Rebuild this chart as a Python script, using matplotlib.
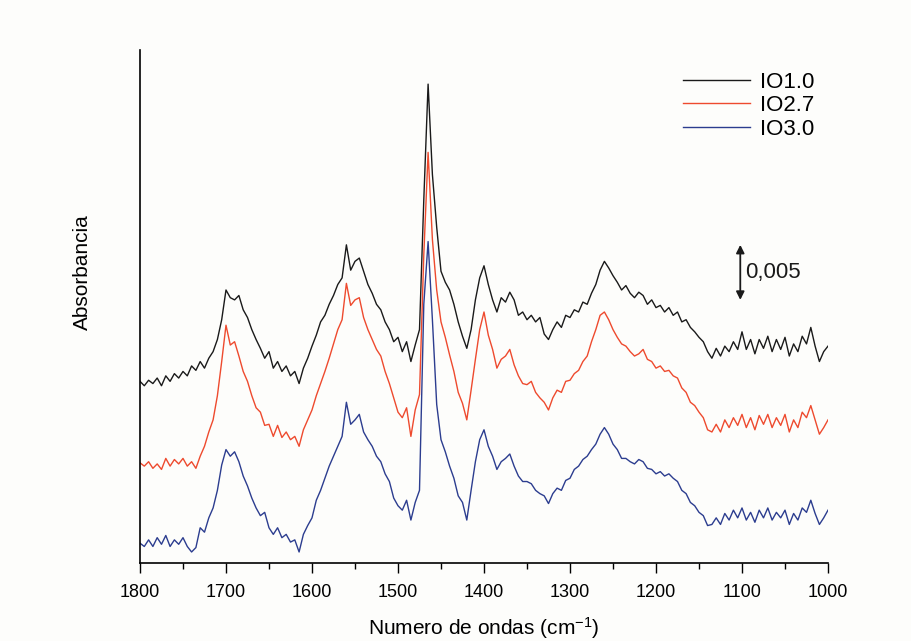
import matplotlib
matplotlib.use("Agg")
import matplotlib.pyplot as plt
import numpy as np

plt.rcParams['font.family'] = ['Liberation Sans', 'DejaVu Sans']
plt.rcParams['mathtext.default'] = 'regular'

# numero de ondas (cm-1), paso de 5
ondas = np.linspace(1800, 1000, 161)

# absorbancia en unidades de 0.001 (curvas desplazadas)
io10 = [16.5, 16.1, 16.6, 16.3, 16.8, 16.1, 17.0, 16.5, 17.2, 16.8,
        17.4, 17.0, 17.9, 17.5, 18.3, 17.7, 18.6, 19.2, 20.3, 22.1,
        24.8, 24.1, 23.9, 24.3, 23.0, 22.3, 21.2, 20.3, 19.5, 18.6,
        19.2, 17.7, 18.3, 17.4, 17.9, 17.0, 17.4, 16.3, 17.7, 18.6,
        19.7, 20.7, 21.9, 22.5, 23.5, 24.3, 25.3, 25.9, 28.9, 26.6,
        27.4, 27.7, 26.5, 25.3, 24.5, 23.5, 23.0, 21.9, 21.2, 20.1,
        20.5, 19.2, 20.1, 18.3, 19.8, 21.2, 33.0, 43.5, 35.3, 30.5,
        26.5, 25.5, 24.8, 23.5, 21.9, 20.6, 19.5, 21.2, 23.9, 25.9,
        27.0, 25.3, 23.9, 22.8, 24.1, 23.7, 24.6, 23.9, 22.5, 22.8,
        22.1, 22.5, 21.9, 22.3, 20.8, 20.3, 21.2, 21.9, 21.4, 22.5,
        22.3, 23.0, 22.8, 23.7, 23.5, 24.5, 25.3, 26.6, 27.4, 26.8,
        26.1, 25.5, 24.8, 25.2, 24.5, 24.1, 24.6, 24.3, 23.5, 23.9,
        23.2, 23.4, 22.8, 23.2, 22.5, 22.8, 21.9, 22.1, 21.4, 21.0,
        20.5, 20.1, 19.2, 18.6, 19.5, 18.8, 19.7, 19.2, 20.1, 19.4,
        21.0, 19.4, 20.3, 19.0, 20.3, 19.5, 20.6, 19.2, 20.3, 19.4,
        20.5, 18.8, 19.9, 19.2, 20.6, 19.9, 21.4, 19.7, 18.3, 19.2,
        19.7]

io27 = [9.1, 8.8, 9.2, 8.6, 9.0, 8.5, 9.5, 8.8, 9.4, 9.0,
        9.5, 8.8, 9.2, 8.6, 9.7, 10.6, 11.9, 13.0, 15.2, 18.3,
        21.6, 19.8, 20.1, 18.8, 17.4, 16.5, 15.2, 14.1, 13.7, 12.5,
        12.6, 11.5, 12.5, 11.4, 11.9, 11.2, 11.5, 10.6, 12.1, 13.0,
        13.9, 15.2, 16.3, 17.4, 18.6, 19.9, 21.2, 22.1, 25.4, 23.4,
        23.9, 24.1, 22.3, 21.2, 20.3, 19.4, 18.8, 17.4, 16.3, 15.0,
        13.7, 13.2, 14.1, 11.5, 13.9, 15.3, 28.0, 37.3, 29.4, 24.8,
        21.9, 20.5, 18.9, 17.4, 15.5, 14.5, 13.0, 15.7, 18.5, 21.2,
        22.8, 20.7, 19.4, 17.7, 18.5, 18.8, 19.4, 18.0, 17.0, 16.3,
        16.2, 16.5, 15.5, 15.0, 14.6, 13.9, 15.0, 15.7, 15.5, 16.5,
        16.6, 17.2, 17.5, 18.3, 18.8, 20.1, 21.2, 22.5, 22.8, 22.1,
        21.2, 20.5, 19.9, 19.7, 19.2, 18.8, 19.0, 19.4, 18.5, 18.3,
        17.7, 17.9, 17.4, 17.5, 17.0, 16.8, 15.9, 15.5, 14.6, 14.3,
        13.7, 13.2, 12.1, 11.9, 12.6, 11.9, 13.0, 12.3, 13.2, 12.5,
        13.5, 12.3, 13.2, 12.1, 13.4, 12.6, 13.5, 12.3, 13.2, 12.5,
        13.5, 11.9, 13.0, 12.3, 13.7, 13.2, 14.3, 13.0, 11.7, 12.3,
        13.0]

io30 = [1.8, 1.5, 2.1, 1.5, 2.3, 1.7, 2.5, 1.5, 2.1, 1.7,
        2.3, 1.5, 1.0, 1.4, 3.2, 2.8, 4.1, 5.0, 6.6, 8.9,
        10.3, 9.7, 10.1, 9.2, 7.9, 7.0, 5.9, 5.0, 4.3, 4.6,
        3.2, 2.6, 3.2, 2.3, 2.6, 1.9, 2.1, 1.0, 2.6, 3.4,
        4.1, 5.7, 6.6, 7.7, 8.8, 9.7, 10.6, 11.5, 14.6, 12.6,
        13.0, 13.5, 11.9, 11.2, 10.6, 9.7, 9.2, 8.1, 7.4, 5.9,
        5.2, 4.8, 5.7, 3.9, 5.5, 6.6, 23.5, 29.2, 22.1, 14.4,
        11.2, 10.1, 8.8, 7.7, 6.1, 5.5, 3.9, 6.6, 9.2, 11.2,
        12.1, 10.6, 9.7, 8.5, 9.2, 9.5, 9.9, 8.8, 7.9, 7.4,
        7.4, 7.2, 6.6, 6.3, 6.1, 5.4, 6.3, 6.8, 6.6, 7.5,
        7.7, 8.5, 8.8, 9.4, 9.7, 10.3, 10.8, 11.7, 12.3, 11.7,
        10.8, 10.3, 9.5, 9.5, 9.2, 9.0, 9.4, 9.2, 8.6, 8.5,
        8.1, 8.3, 7.9, 8.1, 7.7, 7.4, 6.6, 6.3, 5.5, 5.2,
        4.6, 4.3, 3.4, 3.5, 4.1, 3.5, 4.5, 3.9, 4.8, 4.1,
        5.0, 3.9, 4.6, 3.7, 4.8, 4.1, 5.0, 3.9, 4.6, 4.1,
        4.8, 3.5, 4.5, 3.9, 5.0, 4.6, 5.7, 4.5, 3.5, 4.1,
        4.8]

nombres = ['IO1.0', 'IO2.7', 'IO3.0']
colores = ['#1a1a1a', '#ee4a2e', '#2c3d8f']

fig = plt.figure(figsize=(9.12, 6.41), dpi=100)
fig.patch.set_facecolor('#fdfdfb')
ax = fig.add_axes([0.1535, 0.1217, 0.7544, 0.8003])
ax.set_facecolor('#fdfdfb')

for serie, nombre, color in zip([io10, io27, io30], nombres, colores):
    ax.plot(ondas, np.array(serie) / 1000.0, color=color, lw=1.0, label=nombre)

ax.set_xlim(1800, 1000)
ax.set_ylim(0, 0.0466)
ax.set_xticks(np.arange(1800, 999, -100))
ax.set_xticks(np.arange(1750, 999, -100), minor=True)
ax.set_yticks([])
ax.tick_params(axis='x', which='major', length=7, width=1, labelsize=13, pad=8)
ax.tick_params(axis='x', which='minor', length=4, width=1)
for lado in ['top', 'right']:
    ax.spines[lado].set_visible(False)
for lado in ['left', 'bottom']:
    ax.spines[lado].set_linewidth(1.2)

ax.set_xlabel('Numero de ondas (cm$^{-1}$)', fontsize=15, labelpad=10)
ax.set_ylabel('Absorbancia', fontsize=15)
ax.yaxis.set_label_coords(-0.07, 0.567)

leg = ax.legend(loc='upper left', bbox_to_anchor=(0.789, 0.958), frameon=False,
                borderpad=0, borderaxespad=0, fontsize=16, handlelength=3.0,
                handletextpad=0.45, labelspacing=0.12)

# barra de escala 0,005
ax.annotate('', xy=(1102, 0.0289), xytext=(1102, 0.0239),
            arrowprops=dict(arrowstyle='<|-|>', color='#1a1a1a', lw=1.3,
                            mutation_scale=12, shrinkA=0, shrinkB=0))
ax.text(1096, 0.0264, '0,005', fontsize=16, va='center', ha='left', color='#1a1a1a')

fig.savefig('out.png', dpi=100, facecolor=fig.get_facecolor())
